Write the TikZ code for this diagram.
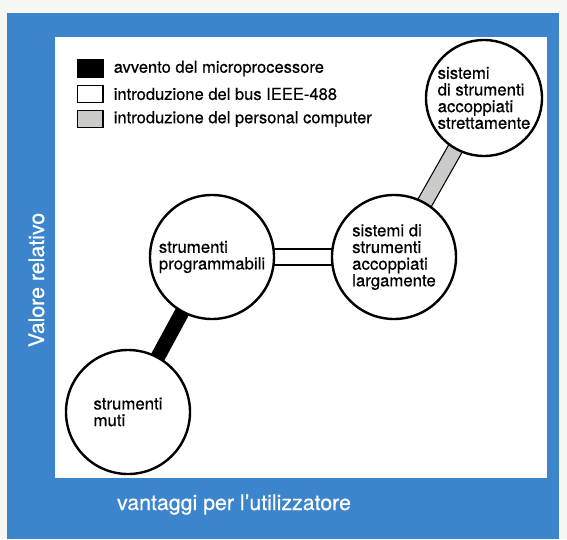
\documentclass[tikz,border=0pt]{standalone}
\usepackage{fontspec}
\setmainfont{TeX Gyre Heros}[FakeBold=0.5]
\usepackage{tikz}
\usetikzlibrary{positioning,backgrounds}
\definecolor{pannello}{RGB}{60,132,204}
\definecolor{carta}{RGB}{247,247,244}
\definecolor{grigio}{RGB}{202,202,200}
\tikzset{
  stadio/.style={circle, draw, line width=1.8pt, fill=white, inner sep=0pt, minimum size=#1, align=left, font=\fontsize{12.6}{12.5}\selectfont},
  stadio/.default=93pt,
  legbox/.style={draw, line width=1pt, minimum width=19.25pt, minimum height=13pt, inner sep=0pt},
  legtext/.style={font=\fontsize{12.4}{14}\selectfont, inner sep=0pt, anchor=west},
  asse/.style={text=white, font=\fontsize{16}{18}\selectfont, inner sep=0pt},
}

\begin{document}
\begin{tikzpicture}[x=0.75pt, y=-0.75pt]
	\useasboundingbox (0,0) rectangle (567,539);
	\begin{pgfonlayer}{background}
	\fill[carta] (0,0) rectangle (567,539);
	\fill[pannello] (7,13) rectangle (559,539);
	\fill[white] (55,37) rectangle (547,478);
	\end{pgfonlayer}
	\node[legbox, fill=black] (micro) at (90,68.5) {};
	\node[legbox, fill=white] (bus) at (90,94) {};
	\node[legbox, fill=grigio] (pc) at (90,119) {};
	\node[legtext, right=7.5pt of micro] (tmicro) {avvento del microprocessore};
	\node[legtext, right=7.5pt of bus] (tbus) {introduzione del bus IEEE-488};
	\node[legtext, right=7.5pt of pc] (tpc) {introduzione del personal computer};
	\node[stadio] (muti) at (128,412) {strumenti\\muti};
	\node[stadio] (prog) at (212,257) {strumenti\\programmabili};
	\node[stadio] (larg) at (394,257) {sistemi di\\strumenti\\accoppiati\\largamente};
	\node[stadio=87pt] (strett) at (484,98) {sistemi\\di strumenti\\accoppiati\\strettamente};
	\begin{pgfonlayer}{background}
	\draw[line width=11pt] (muti.center) -- (prog.center);
	\draw[line width=0.9pt, double=white, double distance=11pt] (prog.center) -- (larg.center);
	\draw[line width=0.9pt, double=grigio, double distance=10.5pt] (larg.center) -- (strett.center);
	\end{pgfonlayer}
	\node[asse, rotate=90, anchor=base] (valore) at (44,280) {Valore relativo};
	\node[asse, anchor=base] (vantaggi) at (234,510) {vantaggi per l'utilizzatore};
\end{tikzpicture}
\end{document}
